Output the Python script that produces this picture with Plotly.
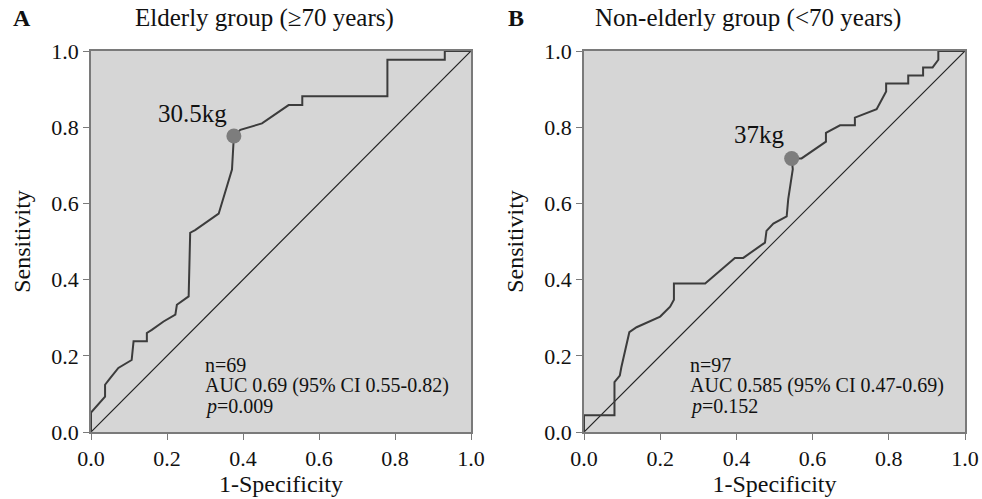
import plotly.graph_objects as go

# Panel A: elderly group ROC curve
a_fpr = [0, 0, 0.037, 0.037, 0.050, 0.072, 0.107, 0.112, 0.147, 0.147, 0.16, 0.191, 0.222, 0.226,
         0.257, 0.261, 0.274, 0.336, 0.371, 0.376, 0.393, 0.45, 0.52, 0.556, 0.556, 0.78, 0.78,
         0.931, 0.931, 1.0]
a_tpr = [0, 0.051, 0.093, 0.124, 0.141, 0.168, 0.189, 0.238, 0.238, 0.26, 0.268, 0.29, 0.308, 0.334,
         0.356, 0.523, 0.53, 0.573, 0.689, 0.777, 0.793, 0.81, 0.858, 0.858, 0.881, 0.881, 0.977,
         0.977, 1.0, 1.0]
a_cut = (0.376, 0.777)

# Panel B: non-elderly group ROC curve
b_fpr = [0, 0, 0.08, 0.08, 0.094, 0.098, 0.119, 0.138, 0.2, 0.226, 0.236, 0.236, 0.318, 0.396, 0.418,
         0.475, 0.479, 0.497, 0.532, 0.536, 0.548, 0.545, 0.571, 0.635, 0.635, 0.672, 0.711, 0.711,
         0.768, 0.793, 0.793, 0.851, 0.851, 0.89, 0.89, 0.915, 0.93, 0.93, 1.0]
b_tpr = [0, 0.044, 0.044, 0.131, 0.148, 0.17, 0.262, 0.275, 0.303, 0.329, 0.347, 0.39, 0.39, 0.457,
         0.457, 0.497, 0.528, 0.547, 0.566, 0.611, 0.69, 0.718, 0.718, 0.762, 0.785, 0.805, 0.805,
         0.825, 0.847, 0.894, 0.915, 0.915, 0.936, 0.936, 0.957, 0.957, 0.977, 1.0, 1.0]
b_cut = (0.545, 0.718)

ref_line = [0, 1]
ticks = [0, 0.2, 0.4, 0.6, 0.8, 1.0]
tick_labels = ["0.0", "0.2", "0.4", "0.6", "0.8", "1.0"]

panels = [
    dict(fpr=a_fpr, tpr=a_tpr, cut=a_cut, cut_label="30.5kg", label_pos=(0.268, 0.835),
         stats=["n=69", "AUC 0.69 (95% CI 0.55-0.82)", "<i>p</i>=0.009"], stats_x=0.294,
         title="Elderly group (≥70 years)", letter="A", title_x=264, letter_x=22),
    dict(fpr=b_fpr, tpr=b_tpr, cut=b_cut, cut_label="37kg", label_pos=(0.461, 0.78),
         stats=["n=97", "AUC 0.585 (95% CI 0.47-0.69)", "<i>p</i>=0.152"], stats_x=0.274,
         title="Non-elderly group (<70 years)", letter="B", title_x=748, letter_x=516),
]

W, H = 982, 499


def px_x(X):
    return X / W


def px_y(Y):
    return 1 - Y / H


xdoms = [[px_x(91), px_x(471)], [px_x(584), px_x(965)]]
ydom = [px_y(432), px_y(51)]

FONT = "Liberation Serif, Times New Roman, serif"
LINE_C = "#3c3c3c"
AX_C = "#7a7a7a"
TXT_C = "#111111"

fig = go.Figure()
annotations = []
for i, p in enumerate(panels):
    xa = "x" if i == 0 else "x2"
    ya = "y" if i == 0 else "y2"
    fig.add_trace(go.Scatter(x=ref_line, y=ref_line, mode="lines", xaxis=xa, yaxis=ya,
                             line=dict(color="#222222", width=1.2), cliponaxis=False,
                             showlegend=False, hoverinfo="skip"))
    fig.add_trace(go.Scatter(x=p["fpr"], y=p["tpr"], mode="lines", xaxis=xa, yaxis=ya,
                             line=dict(color=LINE_C, width=2), cliponaxis=False,
                             showlegend=False))
    fig.add_trace(go.Scatter(x=[p["cut"][0]], y=[p["cut"][1]], mode="markers", xaxis=xa, yaxis=ya,
                             marker=dict(color="#7d7d7d", size=15, line=dict(width=0)),
                             cliponaxis=False, showlegend=False))
    annotations.append(dict(x=p["label_pos"][0], y=p["label_pos"][1], xref=xa, yref=ya,
                            text=p["cut_label"], showarrow=False, xanchor="center",
                            font=dict(family=FONT, size=25, color=TXT_C)))
    for k, s in enumerate(p["stats"]):
        annotations.append(dict(x=p["stats_x"], y=0.176 - k * 0.055, xref=xa, yref=ya,
                                text=s, showarrow=False, xanchor="left",
                                font=dict(family=FONT, size=20, color=TXT_C)))
    annotations.append(dict(x=px_x(p["title_x"]), y=px_y(18), xref="paper", yref="paper",
                            text=p["title"], showarrow=False, xanchor="center", yanchor="middle",
                            font=dict(family=FONT, size=25, color=TXT_C)))
    annotations.append(dict(x=px_x(p["letter_x"]), y=px_y(18), xref="paper", yref="paper",
                            text="<b>" + p["letter"] + "</b>", showarrow=False,
                            xanchor="center", yanchor="middle",
                            font=dict(family=FONT, size=24, color=TXT_C)))

axis_common = dict(range=[0, 1], tickvals=ticks, ticktext=tick_labels, ticks="outside",
                   ticklen=6, tickcolor=AX_C, showline=True, linecolor=AX_C, linewidth=1.5,
                   mirror=True, showgrid=False, zeroline=False, automargin=False,
                   tickfont=dict(family=FONT, size=22, color=TXT_C))
title_font = dict(family=FONT, size=24, color=TXT_C)

fig.update_layout(
    width=W, height=H,
    margin=dict(l=0, r=0, t=0, b=0),
    paper_bgcolor="white",
    plot_bgcolor="#d6d6d6",
    annotations=annotations,
    xaxis=dict(domain=xdoms[0], anchor="y", title=dict(text="1-Specificity", standoff=4,
               font=title_font), **axis_common),
    yaxis=dict(domain=ydom, anchor="x", title=dict(text="Sensitivity", standoff=14,
               font=title_font), **axis_common),
    xaxis2=dict(domain=xdoms[1], anchor="y2", title=dict(text="1-Specificity", standoff=4,
                font=title_font), **axis_common),
    yaxis2=dict(domain=ydom, anchor="x2", title=dict(text="Sensitivity", standoff=14,
                font=title_font), **axis_common),
)

fig.write_html(
    "out.html",
    config={"displayModeBar": False},
    post_script="document.body.style.margin='0';document.body.style.overflow='hidden';",
)
